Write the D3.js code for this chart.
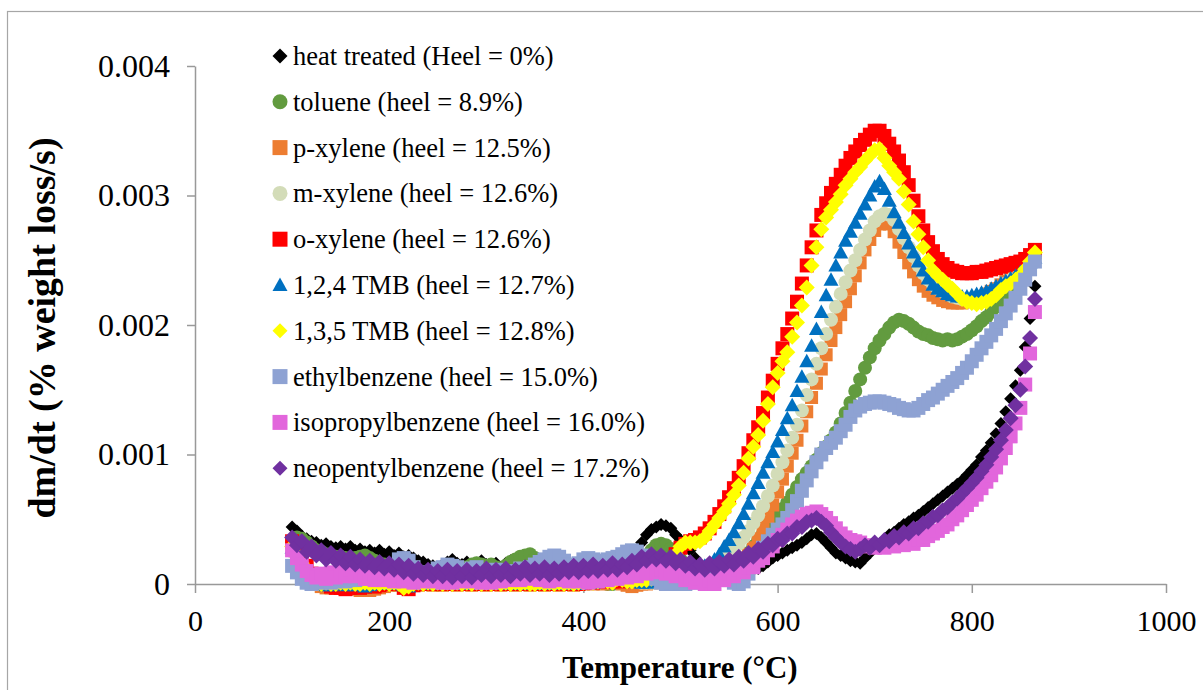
<!DOCTYPE html>
<html>
<head>
<meta charset="utf-8">
<script src="https://cdn.jsdelivr.net/npm/d3@7"></script>
<style>
  body { margin: 0; background: #fff; }
  svg { display: block; font-family: "Liberation Serif", "Times New Roman", serif; }
</style>
</head>
<body>
<script>
// temperature grid: one reading every 5 degC from 100 to 865
var tempStart = 100, tempStep = 5;

// dm/dt readings, in units of 0.0001 %/s
var heatTreated = [
  4.4, 4.1, 3.7, 3.5, 3.3, 3.2, 3.0, 3.1, 2.9, 2.8,
  2.9, 2.7, 2.9, 2.6, 2.7, 2.5, 2.6, 2.4, 2.6, 2.3,
  2.5, 2.2, 2.4, 2.1, 2.2, 2.0, 1.8, 1.7, 1.5, 1.4,
  1.3, 1.5, 1.7, 1.9, 1.6, 1.5, 1.7, 1.5, 1.6, 1.8,
  1.5, 1.4, 1.6, 1.3, 1.6, 1.8, 1.6, 1.5, 1.6, 1.4,
  1.5, 1.6, 1.3, 1.2, 1.4, 1.2, 1.3, 1.1, 1.2, 1.3,
  1.1, 1.3, 1.2, 1.0, 1.2, 1.1, 1.0, 1.2, 1.3, 1.6,
  2.0, 2.6, 3.2, 3.8, 4.2, 4.4, 4.6, 4.5, 4.3, 3.8,
  3.4, 3.0, 2.6, 2.0, 1.5, 1.2, 1.0, 0.9, 0.8, 0.9,
  0.8, 0.7, 0.9, 0.8, 1.0, 1.1, 1.2, 1.4, 1.7, 2.0,
  2.2, 2.4, 2.6, 2.8, 3.0, 3.2, 3.5, 3.8, 3.9, 3.6,
  3.2, 2.8, 2.4, 2.2, 2.0, 1.8, 1.7, 1.6, 2.0, 2.4,
  2.8, 3.1, 3.4, 3.8, 4.0, 4.3, 4.6, 4.8, 5.1, 5.3,
  5.6, 5.9, 6.2, 6.5, 6.8, 7.1, 7.4, 7.7, 8.0, 8.4,
  8.8, 9.2, 9.8, 10.3, 10.9, 11.6, 12.4, 13.3, 14.3, 15.3,
  16.5, 18.3, 20.5, 23.0
];

var toluene = [
  3.2, 3.6, 3.5, 3.2, 2.9, 2.6, 2.5, 2.3, 2.2, 2.1,
  2.1, 2.0, 1.9, 2.0, 2.1, 2.2, 2.0, 1.8, 1.6, 1.5,
  1.4, 1.3, 1.2, 1.1, 1.0, 0.9, 0.8, 0.7, 0.8, 0.9,
  1.0, 1.2, 1.4, 1.3, 1.2, 1.1, 1.3, 1.5, 1.6, 1.5,
  1.4, 1.5, 1.3, 1.2, 1.4, 1.7, 1.9, 2.1, 2.2, 2.3,
  2.0, 1.6, 1.3, 1.0, 0.8, 0.7, 0.6, 0.5, 0.6, 0.5,
  0.4, 0.3, 0.2, 0.2, 0.1, 0.0, 0.0, 0.1, 0.2, 0.4,
  0.7, 1.0, 1.4, 2.0, 2.6, 3.0, 3.1, 3.0, 2.7, 2.3,
  1.9, 1.5, 1.2, 1.0, 0.9, 0.8, 0.8, 0.7, 0.8, 0.9,
  1.0, 1.2, 1.5, 1.9, 2.4, 2.9, 3.4, 3.9, 4.4, 4.8,
  5.3, 5.8, 6.3, 6.9, 7.5, 8.1, 8.6, 9.1, 9.6, 10.1,
  10.6, 11.1, 11.7, 12.4, 13.2, 14.0, 14.9, 15.8, 16.7, 17.5,
  18.2, 18.8, 19.3, 19.8, 20.2, 20.4, 20.3, 20.1, 19.8, 19.5,
  19.3, 19.2, 19.0, 18.9, 18.8, 18.9, 18.8, 18.9, 19.1, 19.3,
  19.6, 19.9, 20.3, 20.6, 21.0, 21.4, 21.9, 22.4, 22.9, 23.4,
  23.9, 24.4, 24.9, 25.3
];

var pXylene = [
  2.6, 2.0, 1.3, 0.7, 0.3, 0.0, -0.2, -0.3, -0.3, -0.2,
  -0.3, -0.2, -0.3, -0.4, -0.5, -0.4, -0.5, -0.4, -0.3, -0.2,
  -0.1, 0.0, -0.1, 0.0, 0.1, 0.0, -0.1, 0.0, 0.0, -0.1,
  0.0, -0.1, 0.0, 0.0, -0.1, 0.0, 0.0, -0.1, 0.0, 0.0,
  -0.1, 0.0, 0.0, -0.1, 0.0, 0.0, -0.1, 0.0, 0.0, -0.1,
  0.0, 0.0, -0.1, 0.0, 0.0, -0.1, 0.0, 0.0, -0.1, 0.0,
  0.0, 0.1, 0.0, 0.1, 0.0, 0.1, 0.2, 0.1, 0.0, -0.1,
  -0.2, -0.1, 0.0, 0.0, 0.1, 0.1, 0.2, 0.2, 0.3, 0.3,
  0.4, 0.4, 0.5, 0.5, 0.6, 0.7, 0.8, 0.9, 1.0, 1.2,
  1.4, 1.6, 1.8, 2.0, 2.3, 2.8, 3.5, 4.3, 5.2, 6.1,
  7.1, 8.1, 9.1, 10.1, 11.1, 12.2, 13.3, 14.4, 15.5, 16.6,
  17.7, 18.8, 19.8, 20.8, 21.8, 22.8, 23.8, 24.8, 25.8, 26.6,
  27.3, 27.8, 28.0, 27.8, 27.2, 26.4, 25.6, 24.8, 24.1, 23.5,
  23.0, 22.6, 22.3, 22.1, 21.9, 21.8, 21.7, 21.7, 21.7, 21.8,
  21.9, 22.0, 22.2, 22.4, 22.6, 22.8, 23.1, 23.4, 23.8, 24.1,
  24.4, 24.8, 25.2, 25.6
];

var mXylene = [
  2.5, 2.0, 1.4, 0.8, 0.4, 0.1, 0.0, 0.0, 0.1, 0.0,
  0.0, 0.1, 0.0, 0.0, 0.1, 0.0, 0.0, 0.1, 0.0, 0.0,
  0.1, 0.0, 0.0, -0.1, 0.0, 0.1, 0.0, 0.0, 0.1, 0.0,
  0.0, 0.1, 0.0, 0.0, 0.1, 0.0, 0.0, 0.1, 0.0, 0.0,
  0.1, 0.0, 0.0, 0.1, 0.0, 0.0, 0.1, 0.0, 0.0, 0.1,
  0.0, 0.0, 0.1, 0.0, 0.0, 0.1, 0.0, 0.0, 0.1, 0.0,
  0.0, 0.1, 0.2, 0.1, 0.2, 0.3, 0.2, 0.3, 0.4, 0.3,
  0.2, 0.2, 0.1, 0.1, 0.1, 0.2, 0.2, 0.3, 0.3, 0.4,
  0.5, 0.6, 0.7, 0.8, 0.9, 1.1, 1.3, 1.5, 1.8, 2.1,
  2.4, 2.7, 3.1, 3.6, 4.1, 4.7, 5.3, 6.0, 6.8, 7.6,
  8.5, 9.4, 10.3, 11.3, 12.3, 13.4, 14.6, 15.8, 17.0, 18.2,
  19.3, 20.4, 21.4, 22.4, 23.3, 24.2, 25.0, 25.8, 26.6, 27.3,
  28.0, 28.4, 28.6, 28.5, 28.1, 27.4, 26.7, 26.0, 25.3, 24.6,
  24.0, 23.5, 23.1, 22.8, 22.6, 22.4, 22.2, 22.1, 22.0, 22.0,
  22.0, 22.1, 22.2, 22.3, 22.5, 22.7, 22.9, 23.2, 23.5, 23.8,
  24.1, 24.5, 24.9, 25.4
];

var oXylene = [
  3.3, 3.0, 2.2, 1.4, 0.8, 0.4, 0.1, 0.0, -0.2, -0.3,
  -0.3, -0.4, -0.3, -0.2, -0.3, -0.2, -0.1, -0.2, -0.1, 0.0,
  0.0, 0.1, 0.0, -0.3, -0.4, -0.1, 0.0, 0.1, 0.0, 0.1,
  0.0, 0.1, 0.0, 0.1, 0.0, 0.0, 0.1, 0.0, 0.1, 0.0,
  0.0, 0.1, 0.0, 0.1, 0.0, 0.1, 0.0, 0.1, 0.0, 0.0,
  0.1, 0.0, 0.1, 0.0, 0.1, 0.0, 0.1, 0.0, 0.1, 0.0,
  0.1, 0.2, 0.1, 0.2, 0.2, 0.3, 0.2, 0.3, 0.2, 0.3,
  0.3, 0.3, 0.3, 0.4, 0.5, 0.7, 1.0, 1.4, 1.8, 2.3,
  2.8, 3.1, 3.3, 3.4, 3.6, 3.9, 4.3, 4.8, 5.4, 6.0,
  6.7, 7.4, 8.2, 9.1, 10.1, 11.1, 12.1, 13.2, 14.4, 15.7,
  17.0, 18.2, 19.3, 20.5, 21.8, 23.2, 24.6, 26.0, 27.3, 28.5,
  29.4, 30.2, 30.9, 31.6, 32.3, 32.9, 33.4, 33.9, 34.3, 34.7,
  35.0, 35.0, 34.6, 34.0, 33.4, 32.7, 31.8, 30.8, 29.6, 28.4,
  27.3, 26.4, 25.7, 25.1, 24.7, 24.4, 24.2, 24.1, 24.0, 24.0,
  24.0, 24.1, 24.1, 24.2, 24.3, 24.4, 24.5, 24.6, 24.7, 24.8,
  24.9, 25.1, 25.4, 25.8
];

var tmb124 = [
  2.8, 2.2, 1.5, 0.9, 0.5, 0.2, 0.0, -0.1, -0.1, 0.0,
  0.0, -0.1, 0.0, -0.1, 0.0, -0.2, -0.1, 0.0, 0.1, 0.0,
  0.0, 0.1, 0.0, -0.1, -0.2, 0.0, 0.1, 0.0, 0.0, 0.1,
  0.0, 0.1, 0.0, 0.0, 0.1, 0.0, 0.0, 0.1, 0.0, 0.0,
  0.1, 0.0, 0.0, 0.1, 0.0, 0.0, 0.1, 0.0, 0.0, 0.1,
  0.0, 0.0, 0.1, 0.0, 0.0, 0.1, 0.0, 0.0, 0.1, 0.0,
  0.1, 0.2, 0.1, 0.2, 0.3, 0.4, 0.3, 0.5, 0.4, 0.3,
  0.2, 0.2, 0.1, 0.1, 0.2, 0.2, 0.3, 0.4, 0.5, 0.6,
  0.7, 0.8, 0.9, 1.0, 1.2, 1.4, 1.6, 1.9, 2.3, 2.9,
  3.4, 4.0, 4.7, 5.4, 6.2, 7.0, 7.8, 8.6, 9.4, 10.2,
  11.0, 11.9, 12.8, 13.8, 14.9, 16.0, 17.2, 18.4, 19.7, 21.0,
  22.3, 23.5, 24.6, 25.6, 26.5, 27.2, 27.9, 28.6, 29.3, 30.0,
  30.7, 31.1, 30.5, 29.6, 28.7, 27.9, 27.1, 26.3, 25.6, 24.9,
  24.2, 23.6, 23.1, 22.8, 22.6, 22.4, 22.3, 22.2, 22.2, 22.2,
  22.3, 22.4, 22.5, 22.6, 22.8, 23.0, 23.2, 23.4, 23.6, 23.8,
  24.1, 24.4, 24.8, 25.2
];

var tmb135 = [
  2.9, 2.3, 1.6, 1.0, 0.5, 0.2, 0.0, 0.1, 0.0, 0.0,
  0.1, 0.0, 0.1, 0.0, 0.0, 0.1, 0.0, 0.1, 0.0, 0.1,
  0.0, 0.1, 0.0, -0.3, -0.2, 0.0, 0.1, 0.0, 0.1, 0.0,
  0.1, 0.0, 0.1, 0.0, 0.1, 0.0, 0.1, 0.0, 0.1, 0.0,
  0.1, 0.0, 0.1, 0.0, 0.1, 0.0, 0.1, 0.0, 0.1, 0.0,
  0.0, 0.1, 0.0, 0.1, 0.0, 0.1, 0.0, 0.1, 0.0, 0.1,
  0.1, 0.2, 0.1, 0.2, 0.3, 0.2, 0.1, 0.4, 0.3, 0.2,
  0.2, 0.3, 0.3, 0.3, 0.4, 0.6, 0.9, 1.3, 1.7, 2.3,
  2.9, 3.2, 3.2, 3.2, 3.3, 3.6, 4.1, 4.6, 5.1, 5.6,
  6.2, 6.9, 7.6, 8.6, 9.7, 10.6, 11.5, 12.6, 13.9, 15.2,
  16.3, 17.2, 17.9, 19.1, 20.2, 21.5, 22.9, 24.6, 26.0, 27.4,
  28.3, 28.9, 29.5, 30.1, 30.8, 31.3, 31.8, 32.2, 32.7, 33.1,
  33.5, 33.6, 32.9, 32.3, 31.8, 31.3, 30.3, 29.3, 28.0, 27.0,
  26.0, 25.0, 24.2, 23.8, 23.5, 23.1, 22.8, 22.4, 22.0, 21.8,
  21.7, 21.6, 21.7, 21.8, 22.0, 22.3, 22.7, 23.0, 23.2, 23.5,
  23.8, 24.3, 24.9, 25.6
];

var ethylbenzene = [
  1.4, 0.9, 0.4, 0.1, 0.0, 0.2, 0.1, 0.3, 0.1, 0.2,
  0.4, 0.2, 0.5, 0.3, 0.6, 0.4, 0.7, 0.5, 0.9, 0.6,
  1.0, 1.4, 1.9, 2.0, 1.8, 1.3, 0.9, 0.6, 0.8, 1.0,
  1.2, 1.3, 1.5, 1.4, 1.3, 1.1, 0.9, 1.2, 1.3, 1.0,
  0.8, 1.0, 1.1, 0.9, 0.7, 0.9, 1.0, 1.2, 1.1, 1.3,
  1.5, 1.7, 1.9, 2.1, 2.2, 2.1, 1.8, 1.5, 1.4, 1.6,
  1.9, 2.0, 1.9, 1.7, 1.8, 1.9, 2.0, 2.1, 2.3, 2.5,
  2.6, 2.5, 2.2, 1.6, 1.0, 0.4, 0.1, 0.0, 0.1, 0.0,
  0.1, 0.0, 0.2, 0.1, 0.4, 0.6, 0.9, 1.0, 0.8, 0.5,
  0.3, 0.1, 0.0, 0.2, 0.8, 1.5, 2.2, 2.8, 3.3, 3.8,
  4.2, 4.6, 5.1, 5.7, 6.4, 7.2, 8.0, 8.7, 9.4, 10.0,
  10.5, 10.9, 11.3, 11.8, 12.3, 12.9, 13.4, 13.7, 13.9, 14.0,
  14.1, 14.1, 14.0, 13.9, 13.8, 13.6, 13.5, 13.4, 13.4, 13.6,
  13.9, 14.2, 14.4, 14.7, 15.0, 15.3, 15.6, 15.9, 16.3, 16.7,
  17.2, 17.7, 18.2, 18.7, 19.2, 19.7, 20.3, 20.9, 21.5, 22.1,
  22.8, 23.5, 24.3, 24.9
];

var isopropylbenzene = [
  2.6, 2.0, 1.5, 1.0, 0.7, 0.5, 0.8, 0.4, 0.9, 0.5,
  1.0, 0.6, 1.1, 0.6, 0.9, 0.4, 0.8, 0.3, 0.7, 0.3,
  0.7, 0.2, 0.6, 0.2, 0.5, 0.1, 0.5, 0.2, 0.6, 0.2,
  0.5, 0.1, 0.4, 0.1, 0.5, 0.2, 0.6, 0.2, 0.5, 0.1,
  0.4, 0.1, 0.5, 0.2, 0.6, 0.3, 0.7, 0.3, 0.8, 0.4,
  0.8, 0.3, 0.7, 0.2, 0.6, 0.3, 0.7, 0.2, 0.6, 0.2,
  0.5, 0.1, 0.5, 0.2, 0.6, 0.3, 0.7, 0.4, 0.8, 0.5,
  0.9, 0.6, 1.0, 0.8, 1.2, 0.9, 1.1, 0.8, 1.0, 0.6,
  0.7, 0.3, 0.5, 0.1, 0.4, 0.0, 0.3, 0.0, 0.5, 0.3,
  0.8, 0.6, 1.1, 0.9, 1.3, 1.3, 1.8, 2.0, 2.6, 2.9,
  3.4, 3.8, 4.2, 4.6, 4.9, 5.2, 5.4, 5.5, 5.6, 5.4,
  5.1, 4.7, 4.3, 3.9, 3.6, 3.4, 3.3, 3.2, 3.0, 2.9,
  2.8, 3.0, 2.8, 3.1, 2.9, 3.2, 3.0, 3.3, 3.1, 3.4,
  3.4, 3.7, 3.9, 4.1, 4.4, 4.6, 5.0, 5.3, 5.7, 6.1,
  6.5, 6.9, 7.4, 7.9, 8.4, 9.0, 9.7, 10.5, 11.4, 12.4,
  13.6, 15.4, 17.8, 21.0
];

var neopentylbenzene = [
  3.6, 3.0, 3.3, 2.5, 2.9, 2.2, 2.6, 1.9, 2.4, 1.8,
  2.2, 1.6, 2.1, 1.5, 1.9, 1.4, 1.8, 1.3, 1.7, 1.2,
  1.6, 1.1, 1.5, 0.9, 1.4, 0.8, 1.2, 0.7, 1.1, 0.6,
  1.0, 0.6, 1.1, 0.5, 1.0, 0.6, 1.1, 0.5, 1.0, 0.7,
  1.2, 0.6, 1.1, 0.7, 1.2, 0.6, 1.1, 0.8, 1.3, 0.7,
  1.2, 0.8, 1.3, 0.7, 1.2, 0.8, 1.3, 0.9, 1.4, 0.9,
  1.4, 1.0, 1.5, 1.0, 1.4, 1.1, 1.6, 1.1, 1.5, 1.3,
  1.8, 1.5, 2.1, 1.8, 2.3, 1.9, 2.2, 1.8, 2.1, 1.6,
  1.9, 1.4, 1.7, 1.2, 1.5, 1.1, 1.6, 1.2, 1.7, 1.4,
  1.9, 1.5, 2.1, 1.8, 2.4, 2.1, 2.7, 2.5, 3.1, 3.0,
  3.5, 3.4, 3.9, 3.9, 4.4, 4.4, 4.8, 4.9, 5.1, 4.8,
  4.5, 4.0, 3.6, 3.2, 2.9, 2.7, 2.5, 2.7, 3.0, 2.8,
  3.2, 3.0, 3.4, 3.3, 3.7, 3.6, 4.0, 3.9, 4.3, 4.3,
  4.7, 4.8, 5.2, 5.3, 5.7, 5.9, 6.3, 6.6, 7.0, 7.4,
  7.8, 8.2, 8.7, 9.2, 9.8, 10.4, 11.1, 11.9, 12.8, 13.8,
  15.0, 16.8, 19.0, 22.0
];

var seriesNames = [
  "heat treated (Heel = 0%)",
  "toluene (heel = 8.9%)",
  "p-xylene (heel = 12.5%)",
  "m-xylene (heel = 12.6%)",
  "o-xylene (heel = 12.6%)",
  "1,2,4 TMB (heel = 12.7%)",
  "1,3,5 TMB (heel = 12.8%)",
  "ethylbenzene (heel = 15.0%)",
  "isopropylbenzene (heel = 16.0%)",
  "neopentylbenzene (heel = 17.2%)"
];

var xTicks = [0, 200, 400, 600, 800, 1000];
var yTicks = [0, 0.001, 0.002, 0.003, 0.004];
var yTickLabels = ["0", "0.001", "0.002", "0.003", "0.004"];

var unit = 0.0001;

// styles for each series, in legend (and drawing) order
var seriesValues = [heatTreated, toluene, pXylene, mXylene, oXylene,
                    tmb124, tmb135, ethylbenzene, isopropylbenzene, neopentylbenzene];
var colors = ["#000000", "#629b3f", "#ed7d31", "#d3dcb8", "#ff0000",
              "#0070c0", "#ffff00", "#8ea2d3", "#e266dc", "#7030a0"];
var shapes = ["diamond", "circle", "square", "circle", "square",
              "triangle", "diamond", "square", "square", "diamond"];
var sizes = [13, 14, 13, 14, 14, 15, 16, 14, 14, 16];

var width = 1203, height = 690;

var x = d3.scaleLinear().domain([0, 1000]).range([195, 1166]);
var y = d3.scaleLinear().domain([0, 0.004]).range([584, 66]);

function shapePath(shape, s) {
  var r = s / 2;
  if (shape == "diamond")
    return "M0," + (-r) + "L" + r + ",0L0," + r + "L" + (-r) + ",0Z";
  if (shape == "square")
    return "M" + (-r) + "," + (-r) + "h" + s + "v" + s + "h" + (-s) + "Z";
  if (shape == "triangle")
    return "M0," + (-r) + "L" + r + "," + (r * 0.8) + "L" + (-r) + "," + (r * 0.8) + "Z";
  return "M" + r + ",0A" + r + "," + r + " 0 1,1 " + (-r) + ",0A" + r + "," + r + " 0 1,1 " + r + ",0Z";
}

var svg = d3.select("body").append("svg")
    .attr("width", width)
    .attr("height", height);

// chart frame
svg.append("rect")
    .attr("x", 7.5).attr("y", 11.5)
    .attr("width", 1210).attr("height", 700)
    .attr("fill", "#fff")
    .attr("stroke", "#a6a6a6")
    .attr("stroke-width", 1.2);

// axes
svg.append("g")
    .attr("class", "x axis")
    .attr("transform", "translate(0," + y(0) + ")")
    .call(d3.axisBottom(x).tickValues(xTicks).tickSize(9).tickSizeOuter(0).tickPadding(17)
      .tickFormat(d3.format("d")));

svg.append("g")
    .attr("class", "y axis")
    .attr("transform", "translate(" + x(0) + ",0)")
    .call(d3.axisLeft(y).tickValues(yTicks).tickSize(8).tickSizeOuter(0).tickPadding(17)
      .tickFormat(function(d, i) { return yTickLabels[i]; }));

svg.selectAll(".domain, .tick line")
    .attr("stroke", "#999")
    .attr("stroke-width", 1.5);
svg.selectAll(".tick text")
    .attr("fill", "#000")
    .style("font-family", "Liberation Serif");
svg.selectAll(".x.axis .tick text").style("font-size", "30px");
svg.selectAll(".y.axis .tick text").style("font-size", "32px");

// markers
seriesValues.forEach(function(vals, k) {
  svg.append("g")
    .selectAll("path")
    .data(vals)
    .join("path")
      .attr("transform", function(d, i) {
        return "translate(" + x(tempStart + i * tempStep) + "," + y(d * unit) + ")";
      })
      .attr("d", shapePath(shapes[k], sizes[k]))
      .attr("fill", colors[k]);
});

// axis titles
svg.append("text")
    .attr("x", 680).attr("y", 678)
    .attr("text-anchor", "middle")
    .style("font-size", "31px")
    .style("font-weight", "bold")
    .text("Temperature (°C)");

svg.append("text")
    .attr("transform", "translate(55,328) rotate(-90)")
    .attr("text-anchor", "middle")
    .style("font-size", "38px")
    .style("font-weight", "bold")
    .text("dm/dt (% weight loss/s)");

// legend
var legend = svg.append("g");
seriesNames.forEach(function(name, k) {
  var row = legend.append("g")
      .attr("transform", "translate(280," + (56 + k * 45.8) + ")");
  row.append("path")
      .attr("d", shapePath(shapes[k], 15))
      .attr("fill", colors[k]);
  row.append("text")
      .attr("x", 13)
      .attr("y", 9)
      .style("font-size", "26.5px")
      .text(name);
});
</script>
</body>
</html>
